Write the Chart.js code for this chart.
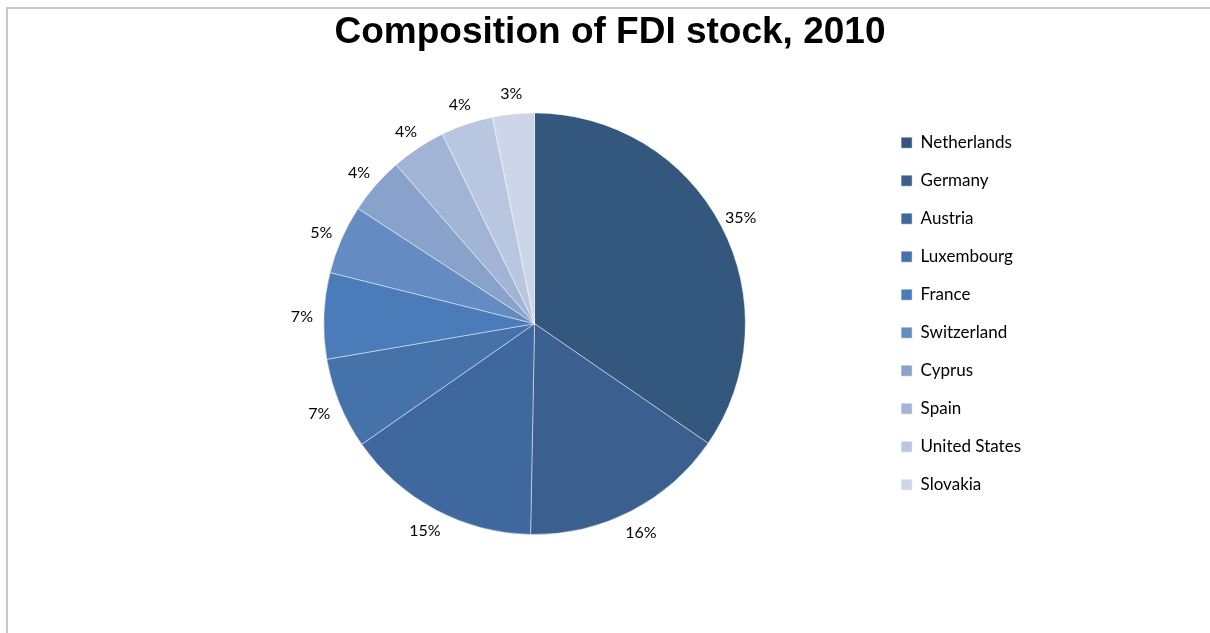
<!DOCTYPE html>
<html>
<head>
<meta charset="utf-8">
<script src="https://cdn.jsdelivr.net/npm/chart.js@4.4.1/dist/chart.umd.min.js"></script>
<style>
	body { margin: 0; background: #fff; }
	#wrap { position: absolute; left: 0; top: 0; width: 1210px; height: 633px; }
	#frame { position: absolute; left: 6px; top: 7px; width: 1204px; height: 626px;
		border-top: 2px solid #c8c8c8; border-left: 2px solid #c8c8c8; box-sizing: border-box; pointer-events: none; }
</style>
</head>
<body>
<div id="wrap"><canvas id="fdiChart" width="1210" height="633"></canvas></div>
<div id="frame"></div>
<script>
const countries = ['Netherlands', 'Germany', 'Austria', 'Luxembourg', 'France', 'Switzerland', 'Cyprus', 'Spain', 'United States', 'Slovakia'];
const shares = [34.6, 15.7, 15.0, 7.0, 6.6, 5.3, 4.4, 4.2, 4.0, 3.2];
const sliceColors = ['#34577e', '#3b5f8e', '#3f699e', '#4572a8', '#4a7cb9', '#658cc2', '#88a2cc', '#a2b4d6', '#b9c6e0', '#cdd6e8'];

// percentage labels outside each slice
const outsideLabels = {
	id: 'outsideLabels',
	afterDatasetsDraw(chart) {
		const ctx = chart.ctx;
		const meta = chart.getDatasetMeta(0);
		const data = chart.data.datasets[0].data;
		const total = data.reduce((a, b) => a + b, 0);
		ctx.save();
		ctx.font = '16px Lato';
		ctx.fillStyle = '#000';
		ctx.textAlign = 'center';
		ctx.textBaseline = 'middle';
		meta.data.forEach((arc, i) => {
			const p = arc.getProps(['x', 'y', 'startAngle', 'endAngle', 'outerRadius'], true);
			const mid = (p.startAngle + p.endAngle) / 2;
			const d = p.outerRadius + 22;
			const x = p.x + Math.cos(mid) * d;
			const y = p.y + Math.sin(mid) * d + 2;
			ctx.fillText(Math.round(data[i] / total * 100) + '%', x, y);
		});
		ctx.restore();
	}
};

new Chart(document.getElementById('fdiChart'), {
	type: 'pie',
	data: {
		labels: countries,
		datasets: [{
			data: shares,
			backgroundColor: sliceColors,
			borderColor: 'rgba(255,255,255,0.45)',
			borderWidth: 1
		}]
	},
	options: {
		responsive: false,
		animation: false,
		layout: {
			padding: { left: 189, right: 179, top: 0, bottom: 98 }
		},
		plugins: {
			title: {
				display: true,
				text: 'Composition of FDI stock, 2010',
				color: '#000',
				font: { family: 'Liberation Sans', size: 37, weight: 'bold' },
				padding: { top: 11, bottom: 57 }
			},
			legend: {
				position: 'right',
				align: 'start',
				title: {
					display: true,
					text: ' ',
					font: { size: 1 },
					padding: { top: 112, bottom: 0 }
				},
				labels: {
					color: '#000',
					font: { family: 'Lato', size: 17 },
					boxWidth: 11,
					boxHeight: 11,
					padding: 21
				}
			},
			tooltip: { enabled: false }
		}
	},
	plugins: [outsideLabels]
});
</script>
</body>
</html>
